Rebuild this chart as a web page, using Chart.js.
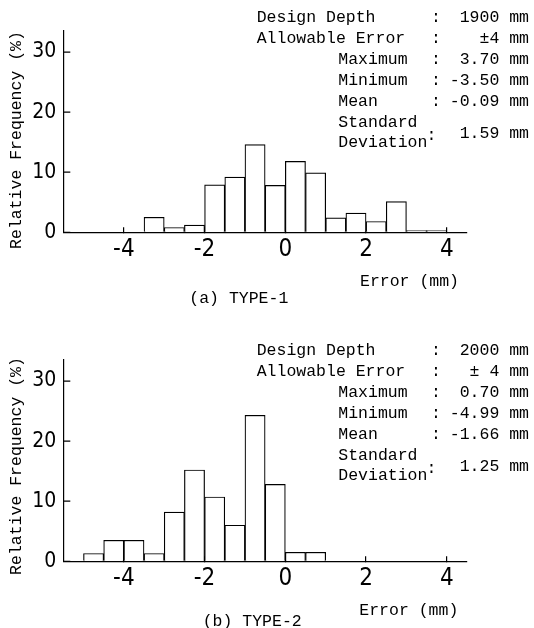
<!DOCTYPE html>
<html>
<head>
<meta charset="utf-8">
<script src="https://cdn.jsdelivr.net/npm/chart.js@4/dist/chart.umd.min.js"></script>
<style>
  html, body { margin: 0; padding: 0; background: #fff; overflow: hidden; }
  #page { position: relative; width: 534px; height: 628px; overflow: hidden; background: #fff; }
  canvas { position: absolute; left: 0; }
  .t { position: absolute; font-family: "Liberation Mono", "DejaVu Sans Mono", monospace; font-size: 16.5px;
       line-height: 16px; color: #000; white-space: pre; }
</style>
</head>
<body>
<div id="page">
  <canvas id="chartA" width="534" height="300" style="top:0px"></canvas>
  <canvas id="chartB" width="534" height="300" style="top:328.5px"></canvas>
</div>
<script>
// histogram bins: lower edge of each 0.5 mm bin and relative frequency (%)
var edgesA = [-3.5, -3.0, -2.5, -2.0, -1.5, -1.0, -0.5, 0.0, 0.5, 1.0, 1.5, 2.0, 2.5, 3.0, 3.5];
var freqA  = [ 2.5,  0.8,  1.2,  7.9,  9.2, 14.6,  7.8, 11.8, 9.9,  2.4, 3.2, 1.8, 5.1, 0.3, 0.3];

var edgesB = [-5.0, -4.5, -4.0, -3.5, -3.0, -2.5, -2.0, -1.5, -1.0, -0.5, 0.0, 0.5];
var freqB  = [ 1.3,  3.5,  3.5,  1.3,  8.2, 15.2, 10.7,  6.0, 24.3, 12.8, 1.5, 1.5];

var xTicks = [-4, -2, 0, 2, 4];
var yTicks = [0, 10, 20, 30];

var statNames = ["Design Depth", "Allowable Error", "Maximum", "Minimum", "Mean"];
var sdName = ["Standard", "Deviation"];
var statsA = ["1900 mm", "±4 mm", "3.70 mm", "-3.50 mm", "-0.09 mm", "1.59 mm"];
var statsB = ["2000 mm", "± 4 mm", "0.70 mm", "-4.99 mm", "-1.66 mm", "1.25 mm"];

var binWidth = 0.5;
var tickFont = "'Liberation Sans Narrow', 'DejaVu Sans Condensed', sans-serif";
var yTickLen = 7;

// y ticks point into the plot, like the original
var inwardYTicks = {
  id: "inwardYTicks",
  afterDraw: function (chart) {
    var ctx = chart.ctx;
    var ys = chart.scales.y;
    var left = chart.chartArea.left;
    ctx.save();
    ctx.strokeStyle = "#000";
    ctx.lineWidth = 1.3;
    ctx.beginPath();
    yTicks.forEach(function (v) {
      var py = ys.getPixelForValue(v);
      ctx.moveTo(left, py);
      ctx.lineTo(left + yTickLen, py);
    });
    ctx.stroke();
    ctx.restore();
  }
};

function makeHist(id, edges, freq) {
  var pts = edges.map(function (e, i) { return { x: e + binWidth / 2, y: freq[i] }; });
  return new Chart(document.getElementById(id), {
    type: "bar",
    data: {
      datasets: [{
        data: pts,
        backgroundColor: "#fff",
        borderColor: "#000",
        borderWidth: 1.2,
        barPercentage: 1,
        categoryPercentage: 1
      }]
    },
    plugins: [inwardYTicks],
    options: {
      responsive: false,
      animation: false,
      layout: { padding: { top: 31, right: 67, bottom: 27.7, left: 0 } },
      plugins: { legend: { display: false }, tooltip: { enabled: false } },
      scales: {
        x: {
          type: "linear", min: -5.5, max: 4.5, offset: false,
          afterBuildTicks: function (s) { s.ticks = xTicks.map(function (v) { return { value: v }; }); },
          afterFit: function (s) { s.height = 40; },
          grid: { offset: false, drawOnChartArea: false, tickLength: -5, color: "#000", lineWidth: 1.2 },
          border: { color: "#000", width: 1.2 },
          ticks: { font: { family: tickFont, size: 24 }, color: "#000", padding: 8, maxRotation: 0,
                   callback: function (v) { return String(v); } }
        },
        y: {
          min: 0, max: 33.5,
          afterBuildTicks: function (s) { s.ticks = yTicks.map(function (v) { return { value: v }; }); },
          afterFit: function (s) { s.width = 63.3; },
          grid: { offset: false, drawOnChartArea: false, drawTicks: false },
          border: { color: "#000", width: 1.2 },
          ticks: { font: { family: tickFont, size: 21 }, color: "#000", padding: 7 }
        }
      }
    }
  });
}

makeHist("chartA", edgesA, freqA);
makeHist("chartB", edgesB, freqB);

// text helpers, positions given as left (or right) edge and vertical centre
var page = document.getElementById("page");
function put(txt, x, cy, right) {
  var d = document.createElement("div");
  d.className = "t";
  d.textContent = txt;
  if (right) d.style.right = (534 - x) + "px"; else d.style.left = x + "px";
  d.style.top = (cy - 8) + "px";
  page.appendChild(d);
  return d;
}

function statBlock(vals, dy) {
  var rows = [18.3, 39.3, 60, 80.7, 101.7];
  for (var i = 0; i < statNames.length; i++) {
    put(statNames[i], i < 2 ? 256.7 : 338.3, rows[i] + dy);
    put(":", 431, rows[i] + dy);
    put(vals[i], 529, rows[i] + dy, true);
  }
  put(sdName[0], 338.3, 122.7 + dy);
  put(sdName[1], 338.3, 143.3 + dy);
  put(":", 426.5, 136 + dy);
  put(vals[5], 529, 134 + dy, true);
}
statBlock(statsA, 0);
statBlock(statsB, 333);

function yTitle(cy) {
  var d = put("Relative Frequency (%)", 17, cy);
  d.style.left = "17px";
  d.style.top = cy + "px";
  d.style.transform = "translate(-50%, -50%) rotate(-90deg)";
}
yTitle(139.5);
yTitle(465.5);

put("Error (mm)", 360, 281.5);
put("(a) TYPE-1", 189.3, 298.5);
put("Error (mm)", 359.3, 610.7);
put("(b) TYPE-2", 202.7, 621.7);
</script>
</body>
</html>
